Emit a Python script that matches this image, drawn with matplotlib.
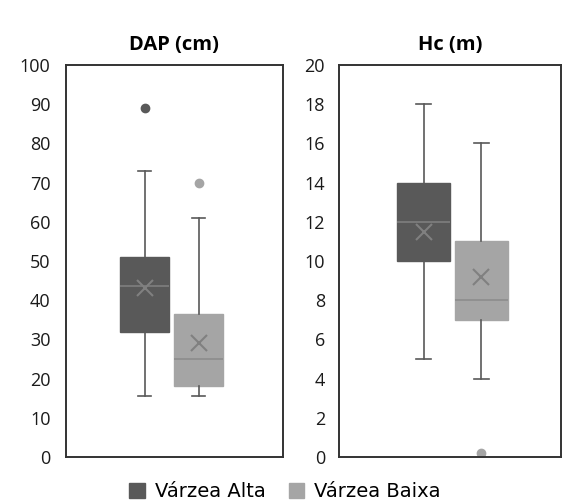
import matplotlib
matplotlib.use("Agg")
import matplotlib.pyplot as plt
from matplotlib.patches import Patch

groups = ["Várzea Alta", "Várzea Baixa"]
colors = ["#595959", "#a5a5a5"]

# DAP (cm): whislo, q1, median, q3, whishi, mean, outliers
dap_whislo = [15.5, 15.5]
dap_q1 = [32, 18]
dap_med = [43.5, 25]
dap_q3 = [51, 36.5]
dap_whishi = [73, 61]
dap_mean = [43, 29]
dap_fliers = [[89], [70]]

# Hc (m)
hc_whislo = [5, 4]
hc_q1 = [10, 7]
hc_med = [12, 8]
hc_q3 = [14, 11]
hc_whishi = [18, 16]
hc_mean = [11.5, 9.2]
hc_fliers = [[], [0.2]]


def make_stats(whislo, q1, med, q3, whishi, mean, fliers):
    stats = []
    for i in range(len(groups)):
        stats.append({"whislo": whislo[i], "q1": q1[i], "med": med[i], "q3": q3[i],
                      "whishi": whishi[i], "mean": mean[i], "fliers": fliers[i]})
    return stats


def draw_panel(ax, stats, title, ymax, step, xlim, pad):
    for i, s in enumerate(stats):
        c = colors[i]
        ax.bxp([s], positions=[i + 1], widths=0.9, showmeans=True, patch_artist=True,
               boxprops=dict(facecolor=c, edgecolor=c, linewidth=1),
               medianprops=dict(color="#7f7f7f" if i == 0 else "#8c8c8c", linewidth=1.2),
               whiskerprops=dict(color="#595959", linewidth=1.2),
               capprops=dict(color="#595959", linewidth=1.2),
               capwidths=0.25,
               meanprops=dict(marker="x", markeredgecolor="#808080", markersize=11,
                              markeredgewidth=1.5),
               flierprops=dict(marker="o", markerfacecolor=c, markeredgecolor=c,
                               markersize=6))
    ax.set_ylim(0, ymax)
    ax.set_yticks(range(0, ymax + 1, step))
    ax.set_xlim(*xlim)
    ax.set_xticks([])
    ax.tick_params(axis="y", length=0, pad=pad, labelsize=13, colors="#1a1a1a")
    for sp in ax.spines.values():
        sp.set_color("#333333")
        sp.set_linewidth(1.4)
    ax.set_title(title, fontsize=14.5, fontweight="bold", pad=11)


plt.rcParams["font.family"] = ["Open Sans", "DejaVu Sans"]

fig = plt.figure(figsize=(5.62, 5.0), dpi=100)
ax1 = fig.add_axes([0.117, 0.086, 0.386, 0.784])
ax2 = fig.add_axes([0.603, 0.086, 0.395, 0.784])

draw_panel(ax1, make_stats(dap_whislo, dap_q1, dap_med, dap_q3, dap_whishi, dap_mean, dap_fliers),
           "DAP (cm)", 100, 10, (-0.46, 3.56), 11)
draw_panel(ax2, make_stats(hc_whislo, hc_q1, hc_med, hc_q3, hc_whishi, hc_mean, hc_fliers),
           "Hc (m)", 20, 2, (-0.46, 3.37), 10)

handles = [Patch(facecolor=c, edgecolor=c) for c in colors]
fig.legend(handles, groups, loc="lower center", bbox_to_anchor=(0.507, -0.037), ncol=2,
           frameon=False, prop={"family": "DejaVu Sans", "size": 14},
           handlelength=0.8, handleheight=0.8, columnspacing=1.2, handletextpad=0.5)

fig.savefig("out.png", dpi=100)
